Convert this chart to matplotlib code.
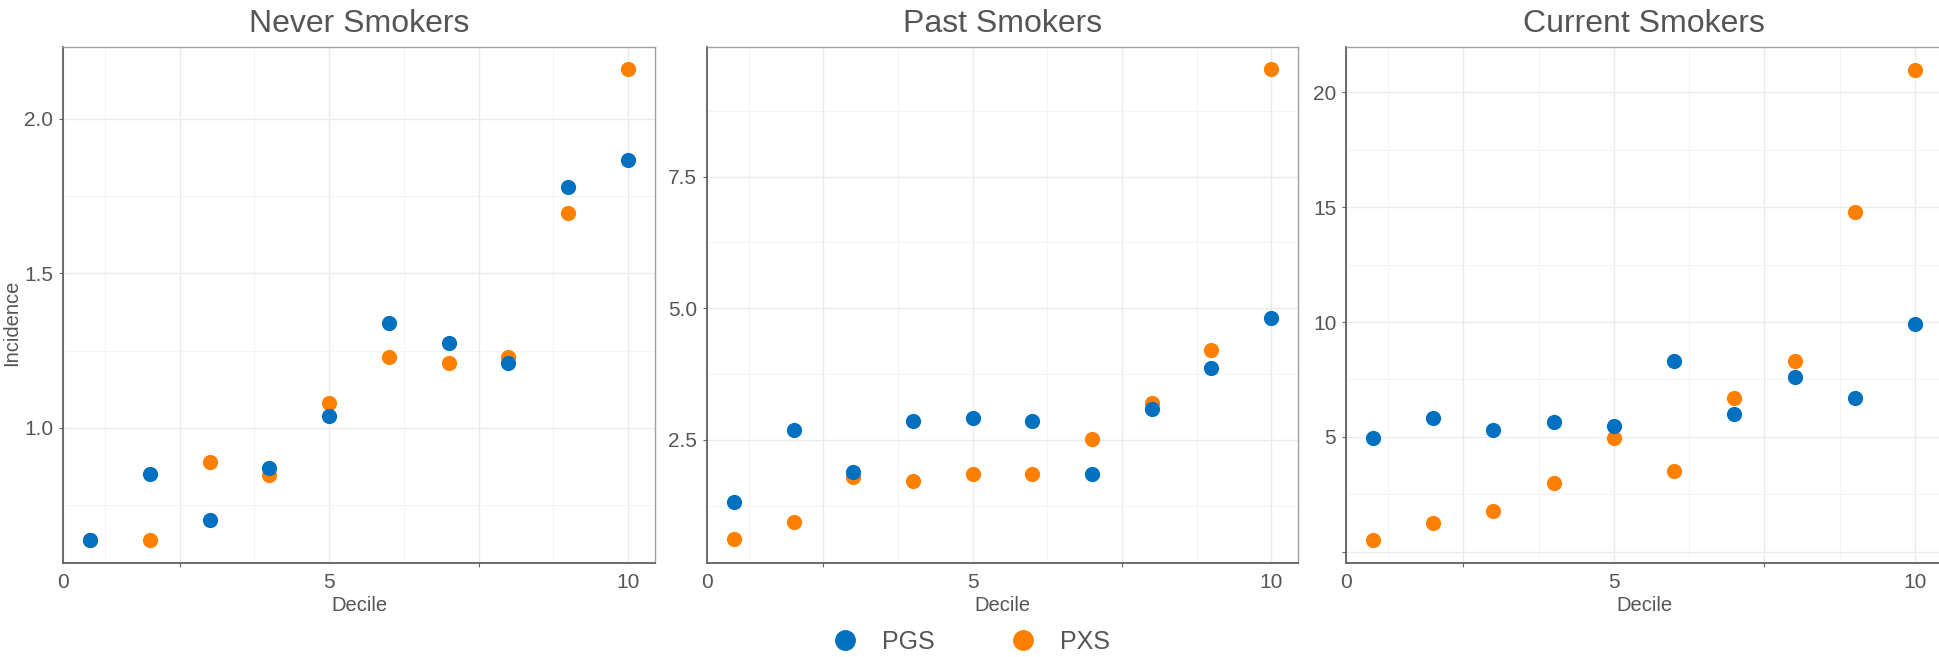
import matplotlib.pyplot as plt
import numpy as np

plt.rcParams['font.family'] = ['Liberation Sans', 'DejaVu Sans']

deciles = np.arange(1, 11)

titles = ["Never Smokers", "Past Smokers", "Current Smokers"]

never_pgs = [0.636, 0.849, 0.701, 0.870, 1.039, 1.338, 1.273, 1.209, 1.781, 1.866]
never_pxs = [0.636, 0.636, 0.890, 0.847, 1.081, 1.230, 1.209, 1.230, 1.695, 2.161]

past_pgs = [1.33, 2.69, 1.90, 2.86, 2.91, 2.86, 1.85, 3.08, 3.86, 4.82]
past_pxs = [0.62, 0.94, 1.79, 1.73, 1.85, 1.85, 2.51, 3.21, 4.20, 9.54]

curr_pgs = [4.94, 5.83, 5.29, 5.65, 5.46, 8.29, 6.00, 7.59, 6.70, 9.93]
curr_pxs = [0.53, 1.23, 1.77, 3.00, 4.93, 3.53, 6.70, 8.29, 14.80, 20.98]

pgs_all = [never_pgs, past_pgs, curr_pgs]
pxs_all = [never_pxs, past_pxs, curr_pxs]

# y axis setup per panel
ylims = [(0.562, 2.233), (0.165, 9.96), (-0.49, 21.97)]
yticks = [[1.0, 1.5, 2.0], [2.5, 5.0, 7.5], [0, 5, 10, 15, 20]]
yticklabels = [["1.0", "1.5", "2.0"], ["2.5", "5.0", "7.5"], ["", "5", "10", "15", "20"]]
yminor = [[0.75, 1.25, 1.75], [1.25, 3.75, 6.25, 8.75], [2.5, 7.5, 12.5, 17.5]]

blue = '#0070C0'
orange = '#FF7F00'
txt = '#555555'

W, H = 1939, 657
fig = plt.figure(figsize=(W/100, H/100), dpi=100)

# panel boxes in pixels: left, right
boxes = [(63, 655), (707, 1298), (1346, 1942)]
top, bottom = 47, 563

xmin, xmax = 0.55, 10.45

for i in range(3):
    l, r = boxes[i]
    ax = fig.add_axes([l/W, 1 - bottom/H, (r-l)/W, (bottom-top)/H])
    ax.set_xlim(xmin, xmax)
    ax.set_ylim(*ylims[i])

    ax.scatter(deciles, pxs_all[i], s=120, color=orange, zorder=3, linewidths=0)
    ax.scatter(deciles, pgs_all[i], s=120, color=blue, zorder=4, linewidths=0)

    ax.set_xticks([xmin, 2.5, 5, 7.5, 10])
    ax.set_xticklabels(['0', '', '5', '', '10'])
    ax.set_xticks([1.25, 3.75, 6.25, 8.75], minor=True)
    for k in (0, 2, 4):
        ax.xaxis.get_major_ticks()[k].tick1line.set_visible(False)

    ax.set_yticks(yticks[i])
    ax.set_yticklabels(yticklabels[i])
    ax.set_yticks(yminor[i], minor=True)

    ax.grid(which='major', color='#EBEBEB', linewidth=1.0, zorder=0)
    ax.grid(which='minor', color='#F4F4F4', linewidth=0.7, zorder=0)
    ax.set_axisbelow(True)

    ax.tick_params(which='major', length=3, width=0.8, color='#666666',
                   labelsize=15, labelcolor=txt, pad=4)
    ax.tick_params(which='minor', length=0)

    for s in ('top', 'right'):
        ax.spines[s].set_color('#A0A0A0')
        ax.spines[s].set_linewidth(1.0)
    for s in ('bottom', 'left'):
        ax.spines[s].set_color('#606060')
        ax.spines[s].set_linewidth(1.3)

    ax.set_xlabel('Decile', fontsize=14.5, color=txt, labelpad=3)
    ax.set_title(titles[i], fontsize=23, color=txt, pad=11)
    if i == 0:
        ax.set_ylabel('Incidence', fontsize=14.5, color=txt)
        ax.yaxis.set_label_coords(-0.071, 0.465)

handles = [
    plt.Line2D([], [], marker='o', linestyle='', color=blue, markersize=14),
    plt.Line2D([], [], marker='o', linestyle='', color=orange, markersize=14),
]
leg = fig.legend(handles, ['PGS', 'PXS'], loc='center', ncol=2,
                 bbox_to_anchor=(965/W, 1 - 642/H), frameon=False,
                 fontsize=18, columnspacing=2.5, handletextpad=0.5)
for t in leg.get_texts():
    t.set_color(txt)

fig.savefig('out.png', dpi=100)
